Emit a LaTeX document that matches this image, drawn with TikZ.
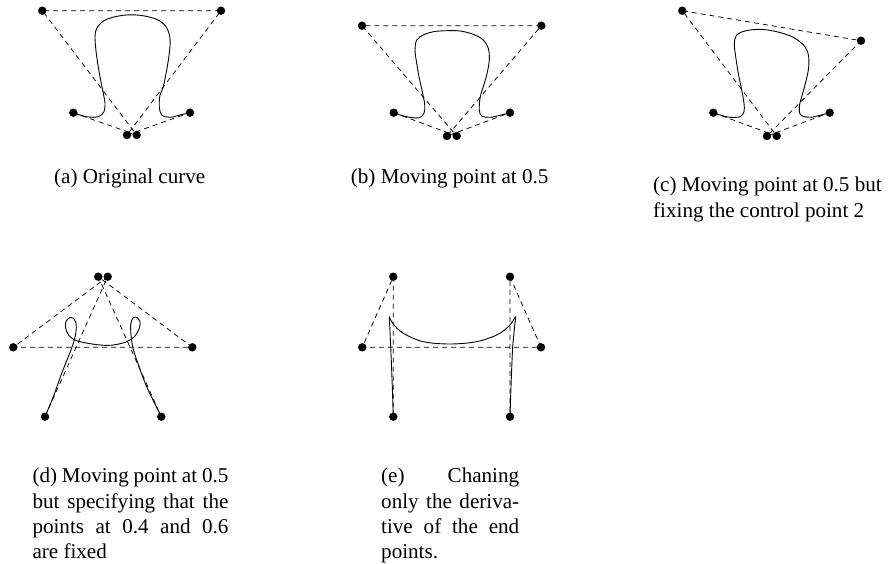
\documentclass[tikz,border=0pt]{standalone}
\usepackage{fontspec}
\setmainfont{Liberation Serif}
\usetikzlibrary{backgrounds}
\tikzset{
  dot/.style={circle,fill=black,inner sep=0pt,minimum size=8.4pt},
  ctrl/.style={draw=black,line width=0.75pt,dash pattern=on 5pt off 4pt},
  crv/.style={draw=black,line width=0.9pt},
  captext/.style={anchor=base west,inner sep=0pt,font=\fontsize{21.1}{25.3}\selectfont}
}
\newcommand{\jline}[2]{\hbox to #1{#2}}
\begin{document}
\begin{tikzpicture}[x=1pt,y=-1pt]
\useasboundingbox (0,0) rectangle (891,564);
% ---------- (a)
\node[dot] (aTL) at (42.3,10.7) {};
\node[dot] (aTR) at (221,10.7) {};
\node[dot] (aBL) at (73.3,112.7) {};
\node[dot] (aBR) at (190,112.7) {};
\node[dot] (aL) at (127,135) {};
\node[dot] (aR) at (136.7,135) {};
% ---------- (b)
\node[dot] (bTL) at (362,25.7) {};
\node[dot] (bTR) at (541.3,25.7) {};
\node[dot] (bBL) at (393.7,112.7) {};
\node[dot] (bBR) at (510,112.7) {};
\node[dot] (bL) at (447,136) {};
\node[dot] (bR) at (456.7,136) {};
% ---------- (c)
\node[dot] (cTL) at (682.3,10.7) {};
\node[dot] (cTR) at (861,40.7) {};
\node[dot] (cBL) at (713.3,112.7) {};
\node[dot] (cBR) at (829.7,112.7) {};
\node[dot] (cL) at (767,136) {};
\node[dot] (cR) at (776.7,136) {};
% ---------- (d)
\node[dot] (dTL) at (98.3,276.7) {};
\node[dot] (dTR) at (107.7,276.7) {};
\node[dot] (dL) at (13.3,347.3) {};
\node[dot] (dR) at (192.3,347.3) {};
\node[dot] (dBL) at (45,416.7) {};
\node[dot] (dBR) at (161.3,416.7) {};
% ---------- (e)
\node[dot] (eTL) at (393.3,276.7) {};
\node[dot] (eTR) at (510,276.7) {};
\node[dot] (eL) at (362.3,347.3) {};
\node[dot] (eR) at (541,347.3) {};
\node[dot] (eBL) at (393.3,416.7) {};
\node[dot] (eBR) at (510,416.7) {};

\begin{scope}[on background layer]
\foreach \p in {a,b,c}{
  \draw[ctrl] (\p BL.center) -- (\p R.center) -- (\p TL.center) -- (\p TR.center) -- (\p L.center) -- (\p BR.center);
}
\draw[ctrl] (dBL.center) -- (dTR.center) -- (dL.center) -- (dR.center) -- (dTL.center) -- (dBR.center);
\draw[ctrl] (eBL.center) -- (eTL.center) -- (eL.center) -- (eR.center) -- (eTR.center) -- (eBR.center);

% curves
\draw[crv] plot[smooth,tension=0.55] coordinates {(73.3,112.7) (86,116.7) (98.3,116.7) (104,111.7) (105,103.3) (103.3,93.3) (100,76.7) (96.7,56.7) (95,36.7) (97.7,26.7) (106.7,19.3) (123.3,15.3) (140,15.3) (156.7,19.3) (166,26.7) (170,38.3) (169.3,53.3) (166.7,70) (163.3,86.7) (160,95) (159.3,106.7) (161.7,115) (170,117.3) (180,115) (190,112.7)};
\draw[crv] plot[smooth,tension=0.55] coordinates {(393.7,112.7) (400,115) (410,117.3) (419.3,117.7) (424,113.3) (424.7,105) (422.7,93.3) (419.3,78.3) (416.7,63.3) (415,50) (416.7,40) (423.3,35) (433.3,31.7) (446.7,30.7) (460,31) (473.3,34.3) (483.3,40) (488.3,48.3) (489.3,60) (486.7,75) (482.7,88.3) (480,98.3) (479.3,110) (481.7,116) (490,117.3) (500,115.3) (510,112.7)};
\draw[crv] plot[smooth,tension=0.55] coordinates {(713.3,112.7) (720,115) (730,117.3) (740,116.7) (744,111.7) (744,103.3) (741.7,90) (738.3,73.3) (735.7,56.7) (734.3,43.3) (736.7,35) (745,31) (760,29.3) (776.7,31.7) (793.3,37.3) (805,46.7) (808.7,56.7) (808.3,70) (805,85) (801.7,96.7) (799.3,106.7) (800.7,115) (810,117.3) (820,115.3) (829.7,112.7)};
\draw[crv] plot[smooth,tension=0.55] coordinates {(45,416.7) (53.3,396.7) (61.7,373.3) (68.3,356.7) (73.3,343.3) (76,331.7) (76,323.3) (73.3,318.3) (69.3,317.7) (66,321.7) (65.7,328.3) (70,336.7) (80,341.7) (100,345) (113.3,345) (126.7,341.7) (135,336) (139.3,328.3) (140,321.7) (136.7,317.3) (132.7,318.3) (130.7,325) (131,335) (132.7,346.7) (136.7,360) (146.7,386.7) (161.3,416.7)};
\draw[crv] plot[smooth,tension=0.4] coordinates {(393.3,416.7) (392.3,386.7) (391,353.3) (389.3,316.7)};
\draw[crv] plot[smooth,tension=0.55] coordinates {(389.3,316.7) (393.3,324) (403.3,333.3) (423.3,341.7) (450,344) (476.7,341.7) (496.7,335) (508.3,326.7) (515.7,316.7)};
\draw[crv] plot[smooth,tension=0.4] coordinates {(515.7,316.7) (512.7,346.7) (511,386.7) (510,416.7)};
\end{scope}

% captions
\node[captext] (capa) at (54,183.5) {(a) Original curve};
\node[captext] (capb) at (350.7,183.5) {(b) Moving point at 0.5};
\node[captext] (capc1) at (653,191.7) {(c) Moving point at 0.5 but};
\node[captext] (capc2) at (653,217) {fixing the control point 2};
\node[captext] (capd1) at (32.3,482.7) {\jline{196pt}{(d)\hfill Moving\hfill point\hfill at\hfill 0.5}};
\node[captext] (capd2) at (32.3,508) {\jline{196pt}{but\hfill specifying\hfill that\hfill the}};
\node[captext] (capd3) at (32.3,533.3) {\jline{196pt}{points\hfill at\hfill 0.4\hfill and\hfill 0.6}};
\node[captext] (capd4) at (32.3,558.6) {are fixed};
\node[captext] (cape1) at (381,482.7) {\jline{138pt}{(e)\hfill Chaning}};
\node[captext] (cape2) at (381,508) {\jline{138pt}{only\hfill the\hfill deriva-}};
\node[captext] (cape3) at (381,533.3) {\jline{138pt}{tive\hfill of\hfill the\hfill end}};
\node[captext] (cape4) at (381,558.6) {points.};
\end{tikzpicture}
\end{document}
